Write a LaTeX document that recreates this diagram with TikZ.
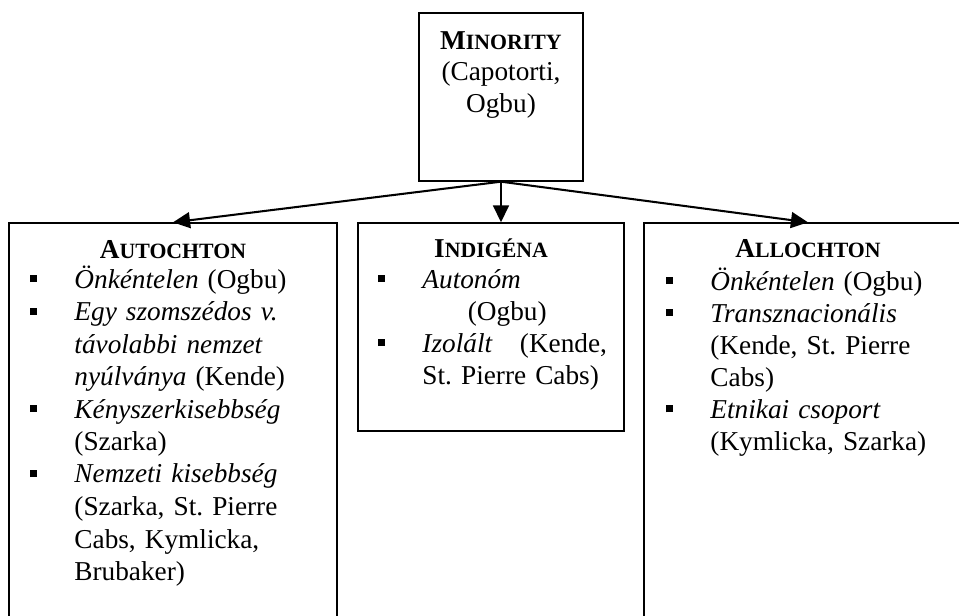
\documentclass[tikz,border=0pt]{standalone}
\usepackage{fontspec}
\setmainfont{Liberation Serif}
\usepackage{tikz}
\usetikzlibrary{arrows.meta}
\frenchspacing

\newcommand{\fsc}[2]{\textbf{#1{\fontsize{9.6}{14}\selectfont #2}}}
\newcommand{\itm}{\leavevmode\llap{\rule[2.6pt]{3.1pt}{3.1pt}\hspace{16.3pt}}}

\tikzset{
  box/.style={draw, line width=0.6pt, inner sep=0pt},
  title/.style={anchor=base, inner sep=0pt, font=\fontsize{12}{14}\selectfont},
  list/.style={anchor=base west, inner sep=0pt, align=left, text width=125pt,
    font=\fontsize{12}{14.1}\selectfont},
  link/.style={-{Triangle[length=7.5pt,width=7pt]}, line width=0.9pt}
}

\begin{document}
\begin{tikzpicture}[x=0.44pt,y=-0.44pt]
\clip (0,0) rectangle (959,616);
%
\node[box, minimum width=72.16pt, minimum height=73.92pt](minority) at (501,97) {};
\node[title, align=center, text width=70pt](minorityText) at (501,49)
  {\fsc{M}{INORITY}\\(Capotorti,\\Ogbu)};
%
\node[box, minimum width=144.32pt, minimum height=187.88pt](autochton) at (173,436.5) {};
\node[title](autochtonTitle) at (173,258) {\fsc{A}{UTOCHTON}};
\node[list, font=\fontsize{12}{14.3}\selectfont](autochtonList) at (74,288) {%
  \itm\textit{Önkéntelen} (Ogbu)\\
  \itm\textit{Egy szomszédos v.}\\
  \textit{távolabbi nemzet}\\
  \textit{nyúlványa} (Kende)\\
  \itm\textit{Kényszerkisebbség}\\
  (Szarka)\\
  \itm\textit{Nemzeti kisebbség}\\
  (Szarka, St. Pierre\\
  Cabs, Kymlicka,\\
  Brubaker)};
%
\node[box, minimum width=117.04pt, minimum height=91.52pt](indigena) at (491,327) {};
\node[title](indigenaTitle) at (491,257) {\fsc{I}{NDIGÉNA}};
\node[list](indigenaList) at (422,288) {%
  \itm\textit{Autonóm}\\
  \hspace*{20pt}(Ogbu)\\
  \itm\textit{Izolált}\hspace{12pt}(Kende,\\
  St. Pierre Cabs)};
%
\node[box, minimum width=144.32pt, minimum height=187.88pt](allochton) at (808,436.5) {};
\node[title](allochtonTitle) at (808,257) {\fsc{A}{LLOCHTON}};
\node[list](allochtonList) at (710,290) {%
  \itm\textit{Önkéntelen} (Ogbu)\\
  \itm\textit{Transznacionális}\\
  (Kende, St. Pierre\\
  Cabs)\\
  \itm\textit{Etnikai csoport}\\
  (Kymlicka, Szarka)};
%
\draw[link](minority.south) -- (autochton.north);
\draw[link](minority.south) -- (minority.south |- indigena.north);
\draw[link](minority.south) -- (allochton.north);
\end{tikzpicture}
\end{document}
